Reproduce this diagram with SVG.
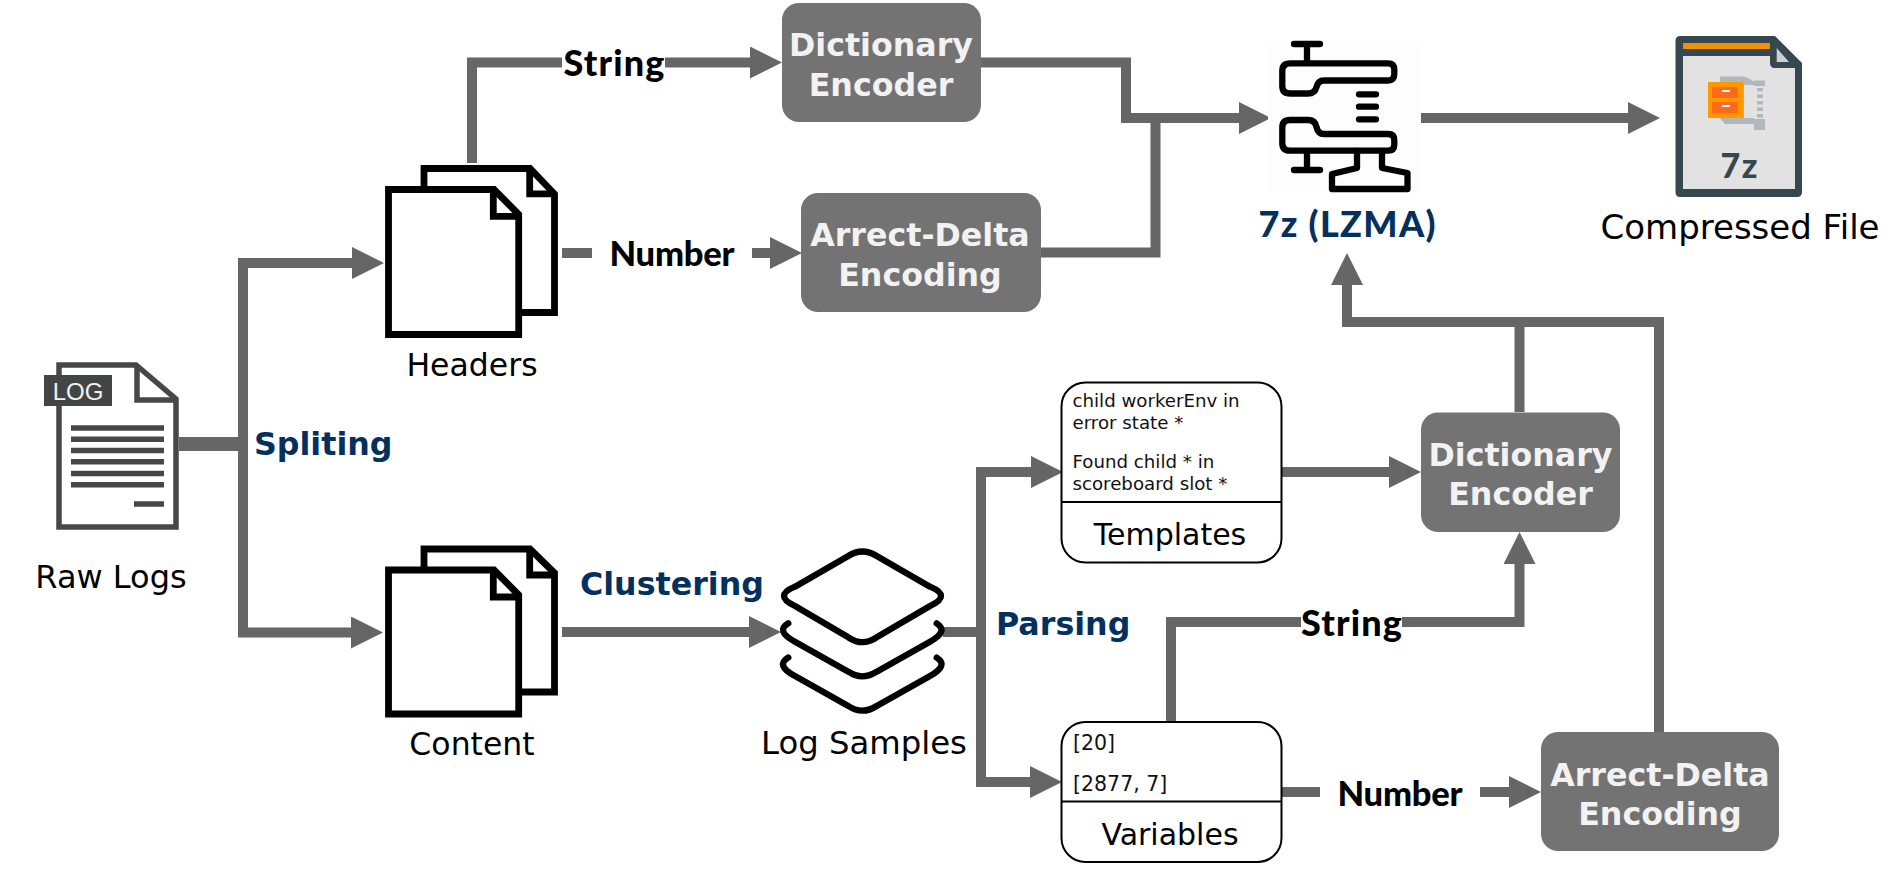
<svg xmlns="http://www.w3.org/2000/svg" width="1903" height="870" viewBox="0 0 1903 870">
<style>
text{font-family:"DejaVu Sans","Liberation Sans",sans-serif}
.c{fill:none;stroke:#666;stroke-width:10;stroke-linejoin:miter}
.lab{font-size:30px;fill:#000;text-anchor:middle}
.step{font-size:31.700px;font-weight:700;fill:#03305f}
.hand{font-family:"Lato","DejaVu Sans",sans-serif;font-weight:900;font-size:36px;fill:#000;text-anchor:middle}
.box{fill:#737373}
.bt{font-size:31.700px;font-weight:700;fill:#f2f2f2;text-anchor:middle}
.sheet{fill:#fff;stroke:#000;stroke-width:6.800;stroke-linejoin:miter}
.fold{fill:none;stroke:#000;stroke-width:6.800;stroke-linejoin:miter}
.card{fill:#fff;stroke:#000;stroke-width:2}
.small{font-size:18.200px;fill:#111}
.num{font-size:20.500px;fill:#111}
.ink{fill:none;stroke:#000;stroke-width:6.300;stroke-linecap:round;stroke-linejoin:round}
</style>
<defs>
<marker id="ah" markerUnits="userSpaceOnUse" markerWidth="33" markerHeight="32" refX="0" refY="16" orient="auto"><polygon points="0,0 32,16 0,32" fill="#666"/></marker>
</defs>
<g id="connectors">
<path class="c" d="M179,444H243" style="stroke-width:14"/>
<path class="c" d="M351,263H243V632.500H351" marker-end="url(#ah)"/>
<path class="c" d="M351,263H352" marker-end="url(#ah)"/>
<path class="c" d="M472,163V62.500H562"/>
<path class="c" d="M665,62.500H750" marker-end="url(#ah)"/>
<path class="c" d="M562,253H592"/>
<path class="c" d="M752,253H770" marker-end="url(#ah)"/>
<path class="c" d="M981,62.500H1126V118H1239" marker-end="url(#ah)"/>
<path class="c" d="M1041,252.500H1155.500V118"/>
<path class="c" d="M1421,118H1628" marker-end="url(#ah)"/>
<path class="c" d="M562,632H749" marker-end="url(#ah)"/>
<path class="c" d="M943,632H981"/>
<path class="c" d="M1030,472H981V782H1030" marker-end="url(#ah)"/>
<path class="c" d="M1030,472H1031" marker-end="url(#ah)"/>
<path class="c" d="M1282,472H1389" marker-end="url(#ah)"/>
<path class="c" d="M1171,722V622H1301"/>
<path class="c" d="M1402,622H1519.500V564" marker-end="url(#ah)"/>
<path class="c" d="M1282,792H1320"/>
<path class="c" d="M1480,792H1509" marker-end="url(#ah)"/>
<path class="c" d="M1519.500,412V322"/>
<path class="c" d="M1659,732V322H1347V285" marker-end="url(#ah)"/>
</g>
<g id="raw-logs">
<path d="M59,365H136L176,399V527H59Z" fill="#fff" stroke="#474747" stroke-width="5.500"/>
<path d="M137,365V400H176" fill="none" stroke="#474747" stroke-width="5.500"/>
<rect x="44" y="375" width="68" height="31" fill="#434545"/>
<text x="78" y="400" font-size="24" fill="#f2f2f2" text-anchor="middle" style="font-family:'Liberation Sans',sans-serif">LOG</text>
<path d="M71,428H164M71,439.300H164M71,450.500H164M71,461.800H164M71,473.500H164M71,484.700H164M134,504H164" stroke="#474747" stroke-width="5.500" fill="none"/>
<text class="lab" x="111" y="587.500" style="font-size:32px">Raw Logs</text>
</g>
<g id="headers">
<path class="sheet" d="M424,168.500H530L554.500,194V312.500H424Z"/>
<path class="fold" d="M529.700,168V193.800H555"/>
<path class="sheet" d="M388.500,189.500H494L518.700,214.500V334.500H388.500Z"/>
<path class="fold" d="M493.300,189V216.300H519"/>
<text class="lab" x="472" y="375.500" style="font-size:31.500px">Headers</text>
</g>
<g id="content">
<path class="sheet" d="M424,549H530L554.500,573V692H424Z"/>
<path class="fold" d="M529.700,549V575H555"/>
<path class="sheet" d="M388.500,570H494L518.700,595V714H388.500Z"/>
<path class="fold" d="M493.300,570V597H519"/>
<text class="lab" x="472" y="754.500" style="font-size:31.500px">Content</text>
</g>
<g id="dict-top">
<rect class="box" x="782" y="3" width="199" height="119" rx="17"/>
<text class="bt" x="881" y="55.500">Dictionary</text>
<text class="bt" x="881" y="96">Encoder</text>
</g>
<g id="delta-top">
<rect class="box" x="801" y="193" width="240" height="119" rx="17"/>
<text class="bt" x="920" y="246">Arrect-Delta</text>
<text class="bt" x="920" y="285.500">Encoding</text>
</g>
<g id="lzma">
<rect x="1268" y="42" width="152" height="150" fill="#fdfdfd"/>
<path class="ink" d="M1294,44H1320M1307,44V60M1290,63.300H1388Q1394.300,63.300 1394.300,69.500V74Q1394.300,80.500 1388,80.500H1324Q1318,80.500 1316.500,87Q1315,93.500 1308,93.500H1290Q1282.300,93.500 1282.300,86V71Q1282.300,63.300 1290,63.300ZM1359,94.300H1376M1359,106.700H1376M1359,119.300H1376M1290,120H1308Q1315,120 1316.500,127Q1318,134 1324,134H1388Q1394.300,134 1394.300,140V144.500Q1394.300,150.700 1388,150.700H1290Q1282.300,150.700 1282.300,143V127.500Q1282.300,120 1290,120ZM1307,151V170M1294,170H1320"/>
<path class="ink" d="M1357,151V168L1332,174V189H1407.500V173L1382,168V151" stroke-linecap="butt"/>
<text x="1347" y="236.500" font-size="36" font-weight="900" fill="#03305f" text-anchor="middle" textLength="177" style="font-family:Lato,sans-serif">7z (LZMA)</text>
</g>
<g id="compressed-file">
<path d="M1680,36H1775L1802,63V192Q1802,197 1797,197H1680Q1675.500,197 1675.500,192V41Q1675.500,36 1680,36Z" fill="#37474f"/>
<path d="M1683,56H1770V63Q1770,68 1775,68H1795V189H1683Z" fill="#e2e2e2"/>
<path d="M1776.700,48L1789,62H1776.700Z" fill="#d0d0d0"/>
<rect x="1683" y="43" width="87" height="6" fill="#f39200"/>
<path d="M1720,76.500H1744Q1750,78 1754,82V85H1744V118H1754V124H1725L1720,118Z" fill="#b0b8bc"/>
<path d="M1754,80.500H1765V86H1754ZM1754,119H1765V130H1754Z" fill="#b0b8bc"/>
<path d="M1760,88V118" stroke="#b0b8bc" stroke-width="6" stroke-dasharray="3.500 3" fill="none"/>
<rect x="1708" y="82" width="35.500" height="36" fill="#ff9800"/>
<rect x="1712" y="87" width="26" height="11" fill="#ff6a1a"/>
<rect x="1712" y="102" width="26" height="11" fill="#ff6a1a"/>
<path d="M1722,91H1730M1722,106H1730" stroke="#fff" stroke-width="2"/>
<text x="1739" y="178" font-size="34" font-weight="900" fill="#37474f" text-anchor="middle" textLength="37" style="font-family:Lato,sans-serif">7z</text>
<text class="lab" x="1740" y="238.500" style="font-size:34px">Compressed File</text>
</g>
<g id="log-samples">
<path class="ink" d="M848.300,556Q862.300,547 876.700,556L930,586.700Q952,595.700 930,606L876.700,637.300Q862.300,647 848.300,637.300L795,606Q773,595.700 795,586.700Z"/>
<path class="ink" d="M788.300,623.300Q775,631 795,641.700L848.300,671.700Q862.300,681 876.700,671.700L930,641.700Q949,631 936.700,623.300"/>
<path class="ink" d="M788.300,657.600Q775,665.300 795,676L848.300,706Q862.300,715.300 876.700,706L930,676Q949,665.300 936.700,657.600"/>
<text class="lab" x="864" y="754" style="font-size:32.300px">Log Samples</text>
</g>
<g id="templates">
<rect class="card" x="1061.500" y="382.500" width="220" height="180" rx="24"/>
<path d="M1061.500,502H1281.500" stroke="#000" stroke-width="2"/>
<text class="small" x="1072.500" y="407">child workerEnv in</text>
<text class="small" x="1072.500" y="429">error state *</text>
<text class="small" x="1072.500" y="467.500">Found child * in</text>
<text class="small" x="1072.500" y="489.500">scoreboard slot *</text>
<text class="lab" x="1170" y="544.500">Templates</text>
</g>
<g id="variables">
<rect class="card" x="1061.500" y="722" width="220" height="140" rx="24"/>
<path d="M1061.500,801.500H1281.500" stroke="#000" stroke-width="2"/>
<text class="num" x="1073" y="749.500">[20]</text>
<text class="num" x="1073" y="790.500">[2877, 7]</text>
<text class="lab" x="1170" y="844.500">Variables</text>
</g>
<g id="dict-low">
<rect class="box" x="1421" y="412.500" width="199" height="119.500" rx="17"/>
<text class="bt" x="1520.500" y="465.500">Dictionary</text>
<text class="bt" x="1520.500" y="505">Encoder</text>
</g>
<g id="delta-low">
<rect class="box" x="1541" y="732" width="238" height="119" rx="17"/>
<text class="bt" x="1660" y="785.500">Arrect-Delta</text>
<text class="bt" x="1660" y="825">Encoding</text>
</g>
<g id="labels">
<text class="step" x="254" y="455">Spliting</text>
<text class="step" x="580" y="595">Clustering</text>
<text class="step" x="996" y="634.500">Parsing</text>
<text class="hand" x="614" y="76" textLength="101">String</text>
<text class="hand" x="672" y="266" textLength="125" style="font-size:34.500px">Number</text>
<text class="hand" x="1351.500" y="636" textLength="101">String</text>
<text class="hand" x="1400" y="806" textLength="125" style="font-size:34.500px">Number</text>
</g>
</svg>
